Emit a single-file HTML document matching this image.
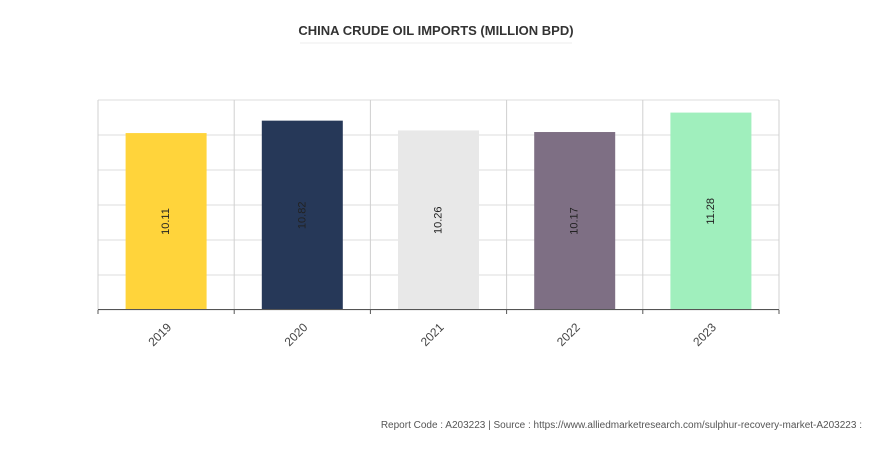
<!DOCTYPE html>
<html><head><meta charset="utf-8"><style>
html,body{margin:0;padding:0;background:#fff;}
body{width:871px;height:445px;overflow:hidden;font-family:"Liberation Sans",sans-serif;}
</style></head><body>
<svg id="chart" width="871" height="445" xmlns="http://www.w3.org/2000/svg">
<rect x="0" y="0" width="871" height="445" fill="#fff"/>
<text x="436" y="35" text-anchor="middle" font-size="13" font-weight="bold" fill="#333">CHINA CRUDE OIL IMPORTS (MILLION BPD)</text>
<line x1="300" y1="43" x2="572" y2="43" stroke="#eee" stroke-width="1"/>
<g id="grid"></g><g id="bars"></g><g id="axis"></g>
<text x="862" y="428" text-anchor="end" font-size="10" fill="#555">Report Code : A203223  |  Source : https://www.alliedmarketresearch.com/sulphur-recovery-market-A203223 :</text>
</svg>
<script>
const categories = ["2019","2020","2021","2022","2023"];
const values = [10.11,10.82,10.26,10.17,11.28];
const colors = ["#ffd43b","#263858","#e8e8e8","#7e6f84","#a0efbd"];
const yTicks = [0,2,4,6,8,10,12];
const NS="http://www.w3.org/2000/svg";
const L=98,R=779,T=100,B=310,yMax=12;
const bw=(R-L)/categories.length;
const y=v=>B-(v/yMax)*(B-T);
const x=i=>L+i*bw;
function mk(tag,attrs,parent){const e=document.createElementNS(NS,tag);for(const k in attrs)e.setAttribute(k,attrs[k]);parent.appendChild(e);return e;}
const grid=document.getElementById('grid'),bars=document.getElementById('bars'),axis=document.getElementById('axis');
yTicks.forEach(t=>{const l=mk('line',{x1:L,x2:R,y1:y(t),y2:y(t),stroke:'#ddd','stroke-width':1},grid);

});
for(let i=0;i<=categories.length;i++){const l=mk('line',{x1:x(i),x2:x(i),y1:T,y2:B,stroke:'#d0d0d0','stroke-width':1},grid);


const tk=mk('line',{x1:x(i),x2:x(i),y1:B,y2:B+4,stroke:'#555','stroke-width':1},axis);

}
const ax=mk('line',{x1:L,x2:R,y1:B-0.5,y2:B-0.5,stroke:'#555','stroke-width':1},axis);


categories.forEach((c,i)=>{
const cx=x(i)+bw/2,w=81;
const r=mk('rect',{x:cx-w/2,y:y(values[i]),width:w,height:B-y(values[i]),fill:colors[i]},bars);


const my=(y(values[i])+B)/2;
const t=mk('text',{x:cx,y:my,transform:`rotate(-90 ${cx} ${my})`,'text-anchor':'middle','dominant-baseline':'central','font-size':11,fill:'#222'},bars);
t.textContent=values[i].toFixed(2);


const lx=cx+6,ly=B+18;
const lab=mk('text',{x:lx,y:ly,transform:`rotate(-45 ${lx} ${ly})`,'text-anchor':'end','font-size':12,fill:'#444'},axis);
lab.textContent=c;


});
</script>
</body></html>
